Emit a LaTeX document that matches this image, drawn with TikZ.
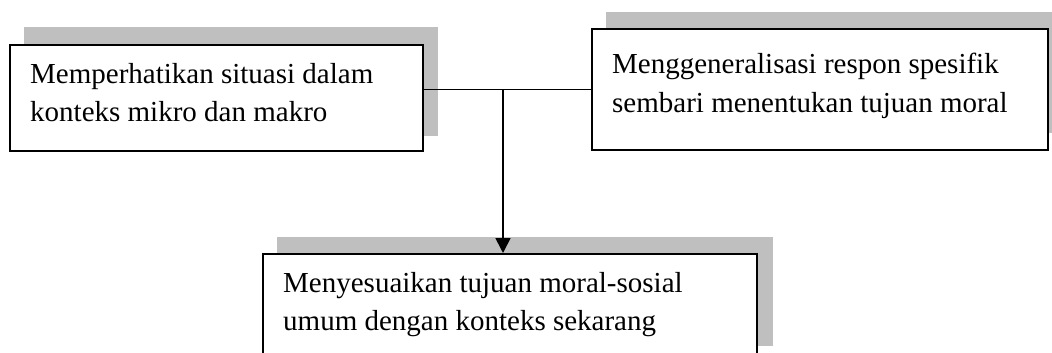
\documentclass[tikz,border=0pt]{standalone}
\usepackage{fontspec}
\setmainfont{Liberation Serif}
\usetikzlibrary{arrows.meta}
\definecolor{shadowgray}{HTML}{BFBFBF}
\begin{document}
\begin{tikzpicture}[x=1pt,y=-1pt,
  boxstyle/.style={draw=black,line width=1.7pt,fill=white,inner sep=0pt,anchor=north west},
  shadowstyle/.style={fill=shadowgray,draw=none},
  linetext/.style={anchor=base west,inner sep=0pt,font=\fontsize{29}{38}\selectfont},
  conn/.style={line width=1.7pt}]
\useasboundingbox (0,0) rectangle (1052,353);
\clip (0,0) rectangle (1052,353);
% shadows
\fill[shadowstyle] (24,27) rectangle (438,136);
\fill[shadowstyle] (606,12) rectangle (1060,133);
\fill[shadowstyle] (277,237) rectangle (773,346);
% boxes
\node[boxstyle,minimum width=413pt,minimum height=106pt] (b1) at (9,44) {};
\node[boxstyle,minimum width=456pt,minimum height=121pt] (b2) at (591,28) {};
\node[boxstyle,minimum width=494pt,minimum height=130pt] (b3) at (262,253) {};
% texts
\node[linetext] (t11) at (30,83) {Memperhatikan situasi dalam};
\node[linetext] (t12) at (30,121) {konteks mikro dan makro};
\node[linetext] (t21) at (612,74) {Menggeneralisasi respon spesifik};
\node[linetext] (t22) at (612,112) {sembari menentukan tujuan moral};
\node[linetext] (t31) at (283,292) {Menyesuaikan tujuan moral-sosial};
\node[linetext] (t32) at (283,330) {umum dengan konteks sekarang};
% connectors
\coordinate (j) at (503,0 |- b2.west);
\draw[conn] (b1.east |- b2.west) -- (b2.west);
\draw[conn,-{Triangle[width=15pt,length=15pt]}] (j) -- (j |- b3.north);
\end{tikzpicture}
\end{document}
